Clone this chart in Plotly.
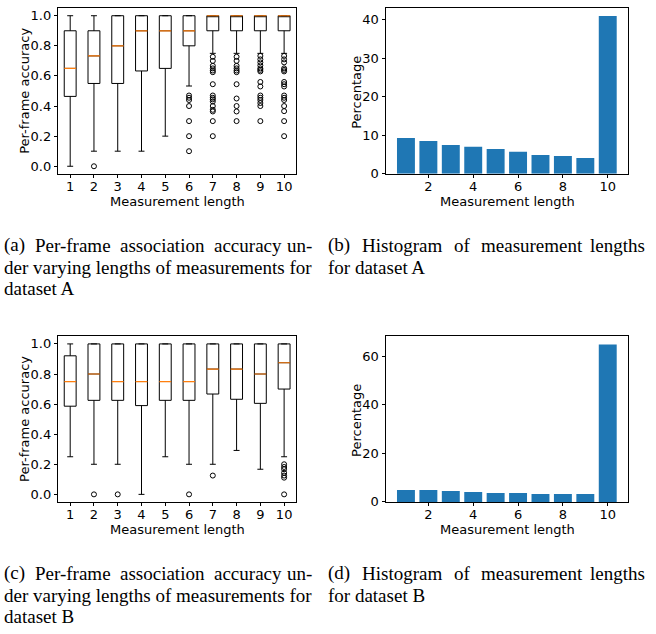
import plotly.graph_objects as go

W, H = 656, 634

# ---------------- data ----------------
lengths = [1, 2, 3, 4, 5, 6, 7, 8, 9, 10]

# Dataset A: per-frame accuracy box statistics
a_lower = [0.0, 0.1, 0.1, 0.1, 0.2, 0.533, 0.75, 0.75, 0.75, 0.75]
a_q1 = [0.464, 0.55, 0.55, 0.633, 0.65, 0.8, 0.9, 0.9, 0.9, 0.9]
a_median = [0.65, 0.733, 0.8, 0.9, 0.9, 0.9, 1.0, 1.0, 1.0, 1.0]
a_q3 = [0.9, 0.9, 1.0, 1.0, 1.0, 1.0, 1.0, 1.0, 1.0, 1.0]
a_upper = [1.0, 1.0, 1.0, 1.0, 1.0, 1.0, 1.0, 1.0, 1.0, 1.0]
a_outliers = {
    2: [0.0],
    6: [0.47, 0.455, 0.44, 0.4, 0.3, 0.2, 0.1],
    7: [0.727, 0.70, 0.667, 0.65, 0.636, 0.625, 0.545, 0.47, 0.455, 0.444,
        0.43, 0.4, 0.375, 0.364, 0.3, 0.2],
    8: [0.727, 0.70, 0.667, 0.65, 0.636, 0.625, 0.545, 0.45, 0.4, 0.364, 0.3],
    9: [0.733, 0.71, 0.69, 0.67, 0.65, 0.64, 0.63, 0.56, 0.53, 0.47, 0.455,
        0.44, 0.42, 0.4, 0.3],
    10: [0.733, 0.71, 0.69, 0.65, 0.64, 0.63, 0.56, 0.545, 0.53, 0.47, 0.455,
         0.44, 0.4, 0.366, 0.3, 0.2],
}

# Dataset B: per-frame accuracy box statistics
b_lower = [0.25, 0.2, 0.2, 0.0, 0.25, 0.2, 0.2, 0.292, 0.167, 0.25]
b_q1 = [0.586, 0.625, 0.625, 0.59, 0.625, 0.625, 0.667, 0.632, 0.605, 0.70]
b_median = [0.75, 0.8, 0.75, 0.75, 0.75, 0.75, 0.833, 0.833, 0.8, 0.875]
b_q3 = [0.921, 1.0, 1.0, 1.0, 1.0, 1.0, 1.0, 1.0, 1.0, 1.0]
b_upper = [1.0, 1.0, 1.0, 1.0, 1.0, 1.0, 1.0, 1.0, 1.0, 1.0]
b_outliers = {
    2: [0.0],
    3: [0.0],
    6: [0.0],
    7: [0.125],
    10: [0.2, 0.182, 0.167, 0.143, 0.125, 0.111, 0.0],
}

# Histograms of measurement lengths (percentage)
hist_a = [9.3, 8.5, 7.5, 7.0, 6.45, 5.7, 4.9, 4.65, 4.1, 41.0]
hist_b = [4.9, 4.9, 4.45, 4.05, 3.65, 3.65, 3.25, 3.25, 3.25, 64.9]

box_ticks = [1, 2, 3, 4, 5, 6, 7, 8, 9, 10]
acc_ticks = [0.0, 0.2, 0.4, 0.6, 0.8, 1.0]
hist_xticks = [2, 4, 6, 8, 10]
hist_a_yticks = [0, 10, 20, 30, 40]
hist_b_yticks = [0, 20, 40, 60]

x_title = "Measurement length"
acc_title = "Per-frame accuracy"
pct_title = "Percentage"

caption_a = ["(a) Per-frame association accuracy un-",
             "der varying lengths of measurements for", "dataset A"]
caption_b = ["(b) Histogram of measurement lengths", "for dataset A"]
caption_c = ["(c) Per-frame association accuracy un-",
             "der varying lengths of measurements for", "dataset B"]
caption_d = ["(d) Histogram of measurement lengths", "for dataset B"]

# ---------------- style ----------------
BAR = "#1f77b4"
MED = "#ff7f0e"
AX_FONT = dict(family="DejaVu Sans", size=13, color="black")
CAP_FONT = dict(family="Liberation Serif", size=19, color="black")
BOX_W = 0.5


def px(x):
    return x / W


def py(y):
    return 1 - y / H


col1 = [px(58.3), px(296)]
col2 = [px(386), px(627.7)]
row1 = [py(176), py(8.3)]
row2 = [py(508.3), py(340.7)]

fig = go.Figure()


def add_box(lower, q1, med, q3, upper, outl, xa, ya):
    fig.add_trace(go.Box(
        x=lengths, lowerfence=lower, q1=q1, median=med, q3=q3, upperfence=upper,
        width=BOX_W, whiskerwidth=0.5, fillcolor="rgba(0,0,0,0)",
        line=dict(color="black", width=1), boxpoints=False,
        xaxis=xa, yaxis=ya, showlegend=False))
    mx, my = [], []
    for xv, m in zip(lengths, med):
        mx += [xv - BOX_W / 2, xv + BOX_W / 2, None]
        my += [m, m, None]
    fig.add_trace(go.Scatter(x=mx, y=my, mode="lines",
                             line=dict(color=MED, width=1.2),
                             xaxis=xa, yaxis=ya, showlegend=False))
    ox, oy = [], []
    for k, vals in outl.items():
        ox += [k] * len(vals)
        oy += vals
    fig.add_trace(go.Scatter(x=ox, y=oy, mode="markers",
                             marker=dict(symbol="circle-open", size=5,
                                         color="black", line=dict(width=1)),
                             xaxis=xa, yaxis=ya, showlegend=False))


add_box(a_lower, a_q1, a_median, a_q3, a_upper, a_outliers, "x", "y")
fig.add_trace(go.Bar(x=lengths, y=hist_a, width=0.8, marker_color=BAR,
                     marker_line_width=0, xaxis="x2", yaxis="y2", showlegend=False))
add_box(b_lower, b_q1, b_median, b_q3, b_upper, b_outliers, "x3", "y3")
fig.add_trace(go.Bar(x=lengths, y=hist_b, width=0.8, marker_color=BAR,
                     marker_line_width=0, xaxis="x4", yaxis="y4", showlegend=False))

common = dict(showline=True, mirror=True, linecolor="black", linewidth=1,
              ticks="outside", ticklen=3.5, tickwidth=1, tickcolor="black",
              showgrid=False, zeroline=False, tickfont=AX_FONT)
xcommon = dict(ticklabelstandoff=-3, **common)

fig.update_layout(
    width=W, height=H, margin=dict(l=0, r=0, t=0, b=0),
    paper_bgcolor="white", plot_bgcolor="white", showlegend=False,
    xaxis=dict(domain=col1, anchor="y", range=[0.5, 10.5], tickvals=box_ticks, **xcommon),
    yaxis=dict(domain=row1, anchor="x", range=[-0.05, 1.05], tickvals=acc_ticks,
               tickformat=".1f", **common),
    xaxis2=dict(domain=col2, anchor="y2", range=[0.11, 10.89], tickvals=hist_xticks, **xcommon),
    yaxis2=dict(domain=row1, anchor="x2", range=[0, 43.05], tickvals=hist_a_yticks, **common),
    xaxis3=dict(domain=col1, anchor="y3", range=[0.5, 10.5], tickvals=box_ticks, **xcommon),
    yaxis3=dict(domain=row2, anchor="x3", range=[-0.05, 1.05], tickvals=acc_ticks,
                tickformat=".1f", **common),
    xaxis4=dict(domain=col2, anchor="y4", range=[0.11, 10.89], tickvals=hist_xticks, **xcommon),
    yaxis4=dict(domain=row2, anchor="x4", range=[0, 68.25], tickvals=hist_b_yticks, **common),
)

ann = []


def text(t, x, y, font, xanchor="center", angle=0):
    ann.append(dict(text=t, x=px(x), y=py(y), xref="paper", yref="paper",
                    xanchor=xanchor, yanchor="middle", showarrow=False,
                    font=font, textangle=angle))


for dy in (0, 332.3):
    text(x_title, 177, 204 + dy, AX_FONT)
    text(x_title, 507, 204 + dy, AX_FONT)
    text(acc_title, 25, 92 + dy, AX_FONT, angle=-90)
    text(pct_title, 357, 94 + dy, AX_FONT, angle=-90)


def justified(line, left, right, y):
    # place words of a justified caption line; first word at left, last word ends at right
    words = line.split(" ")
    widths = {"(a)": 1.11, "(b)": 1.166, "(c)": 1.11, "(d)": 1.166,
              "Per-frame": 3.998, "association": 4.444, "accuracy": 3.553, "un-": 1.333,
              "Histogram": 4.222, "of": 0.833, "measurement": 5.332, "lengths": 2.889}
    fs = CAP_FONT["size"]
    ws = [widths[w] * fs for w in words]
    gap = (right - left - sum(ws)) / (len(words) - 1)
    xx = left
    for i, (w, wd) in enumerate(zip(words, ws)):
        if i == len(words) - 1:
            text(w, right, y, CAP_FONT, xanchor="right")
        else:
            text(w, xx, y, CAP_FONT, xanchor="left")
        xx += wd + gap


def caption(lines, left, right, y0, dy=22):
    justified(lines[0], left, right, y0)
    for i, ln in enumerate(lines[1:], start=1):
        text(ln, left, y0 + i * dy, CAP_FONT, xanchor="left")


caption(caption_a, 2, 314, 248.5)
caption(caption_b, 326, 647, 248.5)
caption(caption_c, 2, 314, 580.8)
caption(caption_d, 326, 647, 580.8)

fig.update_layout(annotations=ann)
fig.write_html("out.html", config={"displayModeBar": False},
               post_script="document.body.style.margin='0';")
